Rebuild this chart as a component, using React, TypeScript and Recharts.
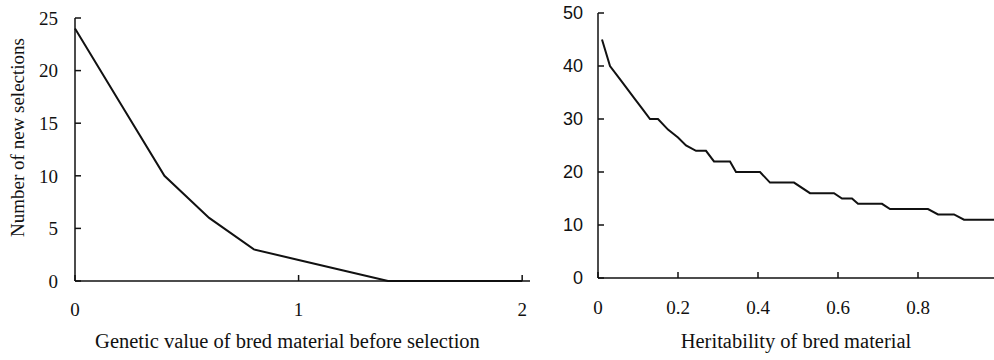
import { Label, Line, LineChart, XAxis, YAxis } from "recharts";

// left panel: genetic value vs number of new selections
const geneticValue = [0, 0.2, 0.4, 0.6, 0.8, 1.0, 1.2, 1.4, 2.0];
const selectionsByValue = [24, 17, 10, 6, 3, 2, 1, 0, 0];
const leftXTicks = [0, 1, 2];
const leftYTicks = [0, 5, 10, 15, 20, 25];

// right panel: heritability vs number of new selections
const heritability = [
  0.01, 0.03, 0.06, 0.09, 0.11, 0.13, 0.15, 0.175, 0.2, 0.22, 0.245, 0.27, 0.29, 0.33, 0.345,
  0.405, 0.43, 0.49, 0.53, 0.59, 0.61, 0.635, 0.65, 0.71, 0.73, 0.825, 0.85, 0.89, 0.915, 0.99,
];
const selectionsByHeritability = [
  45, 40, 37, 34, 32, 30, 30, 28, 26.5, 25, 24, 24, 22, 22, 20,
  20, 18, 18, 16, 16, 15, 15, 14, 14, 13, 13, 12, 12, 11, 11,
];
const rightXTicks = [0, 0.2, 0.4, 0.6, 0.8];
const rightYTicks = [0, 10, 20, 30, 40, 50];

const leftData = geneticValue.map((x, i) => ({ x, y: selectionsByValue[i] }));
const rightData = heritability.map((x, i) => ({ x, y: selectionsByHeritability[i] }));

const INK = "#111";
const SERIF = "'Liberation Serif', 'Times New Roman', serif";
const tickFont = { fontSize: 19, fill: INK, fontFamily: SERIF };
const tickLine = { stroke: INK, strokeWidth: 1.5 };

export default function App() {
  return (
    <div style={{ position: "absolute", left: 0, top: 0, width: 994, height: 360, background: "#fff", overflow: "hidden" }}>
      <div style={{ position: "absolute", left: 0, top: 0 }}>
        <LineChart width={560} height={360} data={leftData} margin={{ top: 18, right: 30, bottom: 0, left: 0 }}>
          <XAxis
            dataKey="x"
            type="number"
            domain={[0, 2.035]}
            ticks={leftXTicks}
            height={79}
            stroke={INK}
            strokeWidth={1.5}
            tickLine={tickLine}
            tickSize={-6}
            tickMargin={28}
            tick={tickFont}
          >
            <Label
              content={({ viewBox }: any) => (
                <text
                  x={viewBox.x + viewBox.width / 2 - 15}
                  y={viewBox.y + 67}
                  textAnchor="middle"
                  fontSize={20.5}
                  fontFamily={SERIF}
                  fill={INK}
                >
                  Genetic value of bred material before selection
                </text>
              )}
            />
          </XAxis>
          <YAxis
            type="number"
            domain={[0, 25]}
            ticks={leftYTicks}
            width={75}
            stroke={INK}
            strokeWidth={1.5}
            tickLine={tickLine}
            tickSize={-6}
            tickMargin={23}
            tick={tickFont}
          >
            <Label
              content={({ viewBox }: any) => {
                const cx = 17;
                const cy = viewBox.y + viewBox.height / 2 - 12;
                return (
                  <text
                    x={cx}
                    y={cy}
                    transform={`rotate(-90, ${cx}, ${cy})`}
                    textAnchor="middle"
                    dominantBaseline="central"
                    fontSize={19}
                    fontFamily={SERIF}
                    fill={INK}
                  >
                    Number of new selections
                  </text>
                );
              }}
            />
          </YAxis>
          <Line
            dataKey="y"
            type="linear"
            stroke={INK}
            strokeWidth={2}
            dot={false}
            isAnimationActive={false}
          />
        </LineChart>
      </div>
      <div style={{ position: "absolute", left: 520, top: 0 }}>
        <LineChart width={474} height={360} data={rightData} margin={{ top: 13, right: 0, bottom: 0, left: 0 }}>
          <XAxis
            dataKey="x"
            type="number"
            domain={[0, 0.99]}
            ticks={rightXTicks}
            height={82}
            stroke={INK}
            strokeWidth={1.5}
            tickLine={tickLine}
            tickSize={-6}
            tickMargin={29}
            tick={tickFont}
          >
            <Label
              content={({ viewBox }: any) => (
                <text
                  x={viewBox.x + viewBox.width / 2}
                  y={viewBox.y + 70}
                  textAnchor="middle"
                  fontSize={20.5}
                  fontFamily={SERIF}
                  fill={INK}
                >
                  Heritability of bred material
                </text>
              )}
            />
          </XAxis>
          <YAxis
            type="number"
            domain={[0, 50]}
            ticks={rightYTicks}
            width={78}
            stroke={INK}
            strokeWidth={1.5}
            tickLine={tickLine}
            tickSize={-6}
            tickMargin={21}
            tick={{ fontSize: 18, fill: INK, fontFamily: "'Liberation Sans', Arial, sans-serif" }}
          />
          <Line
            dataKey="y"
            type="linear"
            stroke={INK}
            strokeWidth={2}
            dot={false}
            isAnimationActive={false}
          />
        </LineChart>
      </div>
    </div>
  );
}
